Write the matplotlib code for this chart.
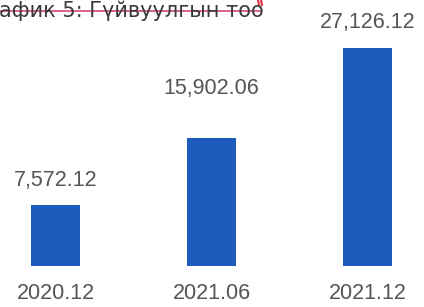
import matplotlib
matplotlib.use("Agg")
import matplotlib.pyplot as plt

categories = ["2020.12", "2021.06", "2021.12"]
values = [7572.12, 15902.06, 27126.12]
value_labels = ["7,572.12", "15,902.06", "27,126.12"]
title_text = "афик 5: Гүйвуулгын тоо"

label_offsets_px = [25, 50, 25]
bar_color = "#1d5cbc"
text_color = "#555555"

plt.rcParams['font.family'] = ['Liberation Sans', 'DejaVu Sans']

W, H = 424, 307
fig = plt.figure(figsize=(W / 100, H / 100), dpi=100)
base_px = 266
ax = fig.add_axes([0, (H - base_px) / H, 1, base_px / H])

x = list(range(len(categories)))
ax.bar(x, values, width=0.31, color=bar_color)
spacing = 156.0
ax.set_xlim(-55.5 / spacing, 2 + (W - 367.5) / spacing)
ax.set_ylim(0, base_px / 0.00804)

for xi, v, lab, off in zip(x, values, value_labels, label_offsets_px):
    ax.annotate(lab, (xi, v), xytext=(0, off), textcoords='offset pixels',
                ha='center', va='center', fontsize=15.5, color=text_color)

ax.set_xticks(x)
ax.set_xticklabels(categories, fontsize=15.5, color=text_color)
ax.tick_params(axis='x', length=0, pad=12)
ax.set_yticks([])
for s in ax.spines.values():
    s.set_visible(False)
ax.patch.set_alpha(0)

# Title (cut off at left) with strikethrough
fig.text(-1 / W, 1 - 17 / H, title_text, ha='left', va='baseline',
         fontsize=15, color='#3a3a3a', family=['DejaVu Sans'])
fig.add_artist(plt.Line2D([0, 260 / W], [1 - 11 / H, 1 - 11 / H],
                          transform=fig.transFigure, color='#d9507c', lw=1.4,
                          alpha=0.9))
fig.add_artist(plt.Line2D([258 / W, 259 / W], [1 - 0 / H, 1 - 5 / H],
                          transform=fig.transFigure, color='#e03040', lw=1.5))
fig.add_artist(plt.Line2D([261 / W, 262 / W], [1 - 0 / H, 1 - 5 / H],
                          transform=fig.transFigure, color='#e03040', lw=1.5))

fig.savefig("out.png", dpi=100)
